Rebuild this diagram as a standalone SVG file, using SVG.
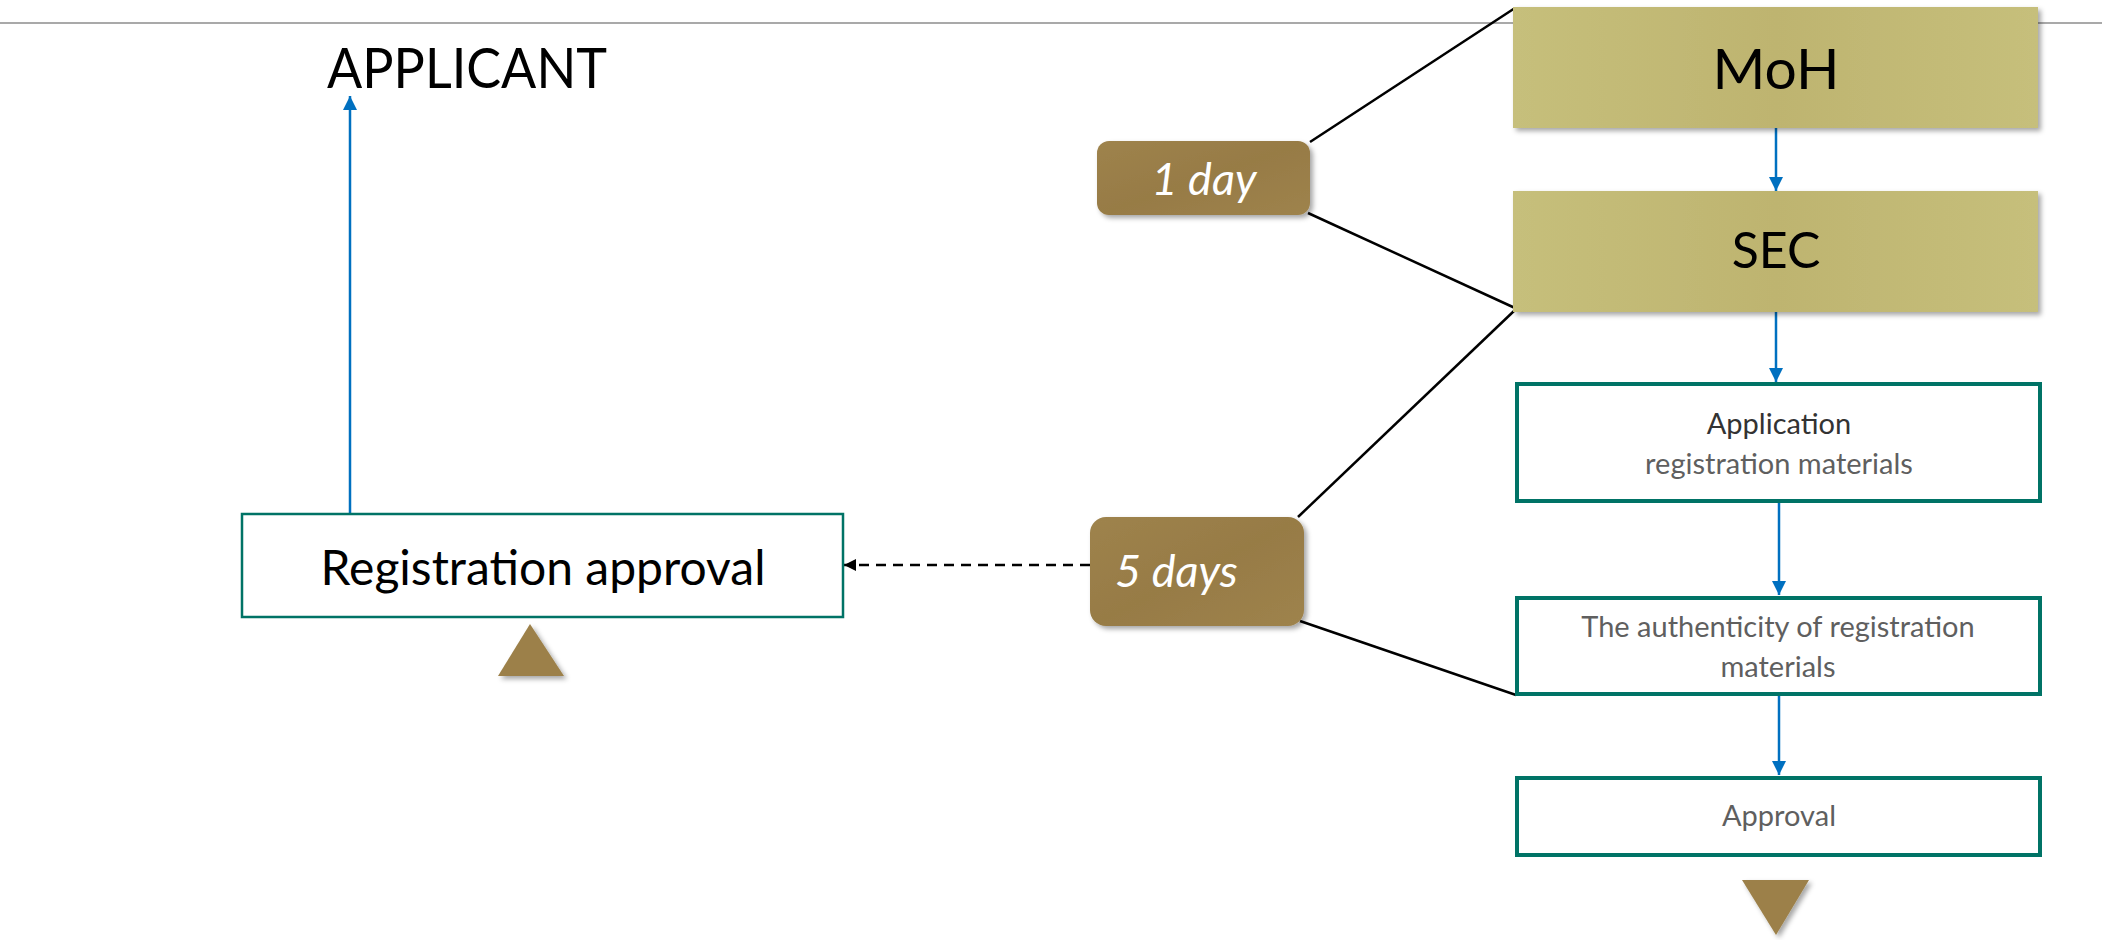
<svg xmlns="http://www.w3.org/2000/svg" width="2102" height="940" viewBox="0 0 2102 940">
<style>
.olive{fill:url(#gOlive);filter:url(#sh)}
.brown{fill:url(#gBrown);filter:url(#sh)}
.step{fill:#fff;stroke:#007366;stroke-width:4}
.tri{fill:#9C8049;filter:url(#sh)}
.blk{font-family:Lato,"Liberation Sans",sans-serif;fill:#000}
.dur{font-family:Lato,"Liberation Sans",sans-serif;font-style:italic;fill:#fff;font-size:45px}
.sm{font-family:Lato,"Liberation Sans",sans-serif;font-size:29px;fill:#5f5f5f;font-weight:400}
.conn{stroke:#000;stroke-width:2.5;fill:none}
.blue{stroke:#0070C0;stroke-width:2.5;fill:none;marker-end:url(#ab)}
</style>
<defs>
<linearGradient id="gOlive" x1="0" y1="0" x2="1" y2="0">
<stop offset="0" stop-color="#C6BF7B"/><stop offset="0.5" stop-color="#BEB470"/><stop offset="1" stop-color="#C6BF7B"/>
</linearGradient>
<linearGradient id="gBrown" x1="0" y1="0" x2="1" y2="1">
<stop offset="0" stop-color="#9E834D"/><stop offset="0.5" stop-color="#977B45"/><stop offset="1" stop-color="#9E834D"/>
</linearGradient>
<filter id="sh" x="-10%" y="-10%" width="130%" height="140%">
<feDropShadow dx="3" dy="3" stdDeviation="2.5" flood-color="#000" flood-opacity="0.35"/>
</filter>
<marker id="ab" markerUnits="userSpaceOnUse" markerWidth="14" markerHeight="14" refX="14" refY="7" orient="auto">
<path d="M0,0 L14,7 L0,14 z" fill="#0070C0"/>
</marker>
<marker id="ak" markerUnits="userSpaceOnUse" markerWidth="12" markerHeight="12" refX="12" refY="6" orient="auto">
<path d="M0,0 L12,6 L0,12 z" fill="#000"/>
</marker>
</defs>
<rect width="2102" height="940" fill="#fff"/>
<line x1="0" y1="23" x2="2102" y2="23" stroke="#8C8C8C" stroke-width="1.5"/>

<g id="connectors">
<line class="conn" x1="1310" y1="142" x2="1515" y2="8"/>
<line class="conn" x1="1308" y1="213" x2="1515" y2="308"/>
<line class="conn" x1="1298" y1="517" x2="1515" y2="310"/>
<line class="conn" x1="1300" y1="621" x2="1516" y2="695"/>
<line x1="1090" y1="565" x2="844" y2="565" stroke="#000" stroke-width="2.5" stroke-dasharray="10,7" marker-end="url(#ak)"/>
<line class="blue" x1="1776" y1="128" x2="1776" y2="191"/>
<line class="blue" x1="1776" y1="312" x2="1776" y2="382"/>
<line class="blue" x1="1779" y1="503" x2="1779" y2="595"/>
<line class="blue" x1="1779" y1="696" x2="1779" y2="775"/>
<line class="blue" x1="350" y1="513" x2="350" y2="96"/>
</g>

<g id="applicant">
<text class="blk" x="327" y="88" font-size="56" textLength="280" lengthAdjust="spacingAndGlyphs">APPLICANT</text>
</g>

<g id="registration-approval">
<rect x="242" y="514" width="601" height="103" fill="#fff" stroke="#007366" stroke-width="2.5"/>
<text class="blk" x="543" y="585" font-size="48" text-anchor="middle">Registration approval</text>
</g>

<g id="up-triangle">
<polygon class="tri" points="498,676 564,676 530,624"/>
</g>

<g id="moh">
<rect class="olive" x="1513" y="7" width="525" height="121"/>
<text class="blk" x="1776" y="89" font-size="57" text-anchor="middle">MoH</text>
</g>

<g id="sec">
<rect class="olive" x="1513" y="191" width="525" height="121"/>
<text class="blk" x="1776" y="268" font-size="50" text-anchor="middle">SEC</text>
</g>

<g id="one-day">
<rect class="brown" x="1097" y="141" width="213" height="74" rx="12"/>
<text class="dur" x="1204" y="195" text-anchor="middle">1 day</text>
</g>

<g id="five-days">
<rect class="brown" x="1090" y="517" width="214" height="109" rx="16"/>
<text class="dur" x="1115" y="587">5 days</text>
</g>

<g id="application">
<rect class="step" x="1517" y="384" width="523" height="117"/>
<text class="sm" x="1779" y="434" text-anchor="middle" style="fill:#333">Application</text>
<text class="sm" x="1779" y="474" text-anchor="middle">registration materials</text>
</g>

<g id="authenticity">
<rect class="step" x="1517" y="598" width="523" height="96"/>
<text class="sm" x="1778" y="637" text-anchor="middle">The authenticity of registration</text>
<text class="sm" x="1778" y="677" text-anchor="middle">materials</text>
</g>

<g id="approval">
<rect class="step" x="1517" y="778" width="523" height="77"/>
<text class="sm" x="1779" y="826" text-anchor="middle">Approval</text>
</g>

<g id="down-triangle">
<polygon class="tri" points="1742,880 1809,880 1776,935"/>
</g>
</svg>
